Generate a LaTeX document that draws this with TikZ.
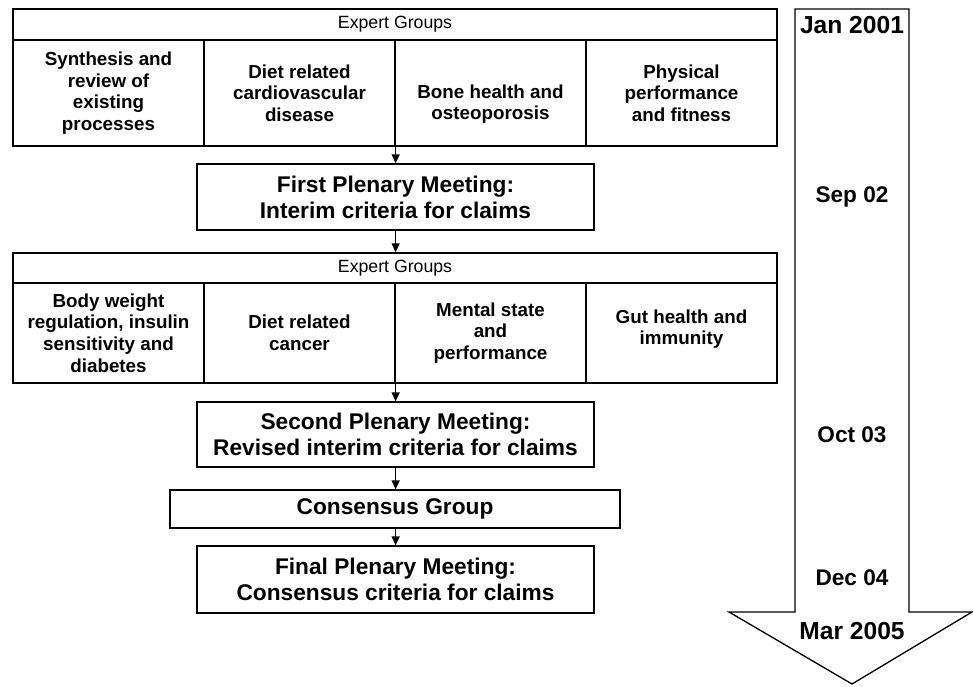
\documentclass[tikz,border=0pt]{standalone}
\usepackage{fontspec}
\setmainfont{Liberation Sans}
\usepackage{tikz}
\usetikzlibrary{arrows.meta, calc, positioning}

\tikzset{
    grouphead/.style={draw, minimum width=764pt, inner sep=0pt,
        font=\fontsize{17.7}{20}\selectfont},
    groupcell/.style={draw, minimum width=191pt, inner sep=0pt},
    celltext/.style={inner sep=0pt, align=center,
        font=\bfseries\fontsize{18.8}{21.7}\selectfont},
    meeting/.style={draw, minimum width=397pt, inner sep=0pt, align=center,
        font=\bfseries\fontsize{22.7}{26}\selectfont},
    datelabel/.style={inner sep=0pt, font=\bfseries\fontsize{22.6}{26}\selectfont},
    flow/.style={-{Triangle[length=9pt, width=8pt]}}
}

\begin{document}
\begin{tikzpicture}[x=1pt, y=-1pt, line width=1.3pt]
                    \useasboundingbox (0, 0) rectangle (973, 686);

                    \node[grouphead, minimum height=31pt] (ha) at (395, 24.5) {Expert Groups};
                    \foreach \i/\dy/\txt in {1/0/{Synthesis and\\review of\\existing\\processes},
                                             2/0/{Diet related\\cardiovascular\\disease},
                                             3/11/{Bone health and\\osteoporosis},
                                             4/0/{Physical\\performance\\and fitness}} {
                        \node[groupcell, minimum height=106pt] (a\i) at (-82.5 + 191*\i, 93) {};
                        \node[celltext] (ta\i) at ($(a\i.center) + (0, \dy)$) {\txt};
                    }

                    \node[meeting, minimum height=66pt] (p1) at (395.5, 197)
                        {First Plenary Meeting:\\Interim criteria for claims};

                    \node[grouphead, minimum height=30pt] (hb) at (395, 268) {Expert Groups};
                    \foreach \i/\dy/\txt in {1/0/{Body weight\\regulation, insulin\\sensitivity and\\diabetes},
                                             2/0/{Diet related\\cancer},
                                             3/0/{Mental state\\and\\performance},
                                             4/-4/{Gut health and\\immunity}} {
                        \node[groupcell, minimum height=100pt] (b\i) at (-82.5 + 191*\i, 333) {};
                        \node[celltext] (tb\i) at ($(b\i.center) + (0, \dy)$) {\txt};
                    }

                    \node[meeting, minimum height=65pt] (p2) at (395.5, 434.5)
                        {Second Plenary Meeting:\\Revised interim criteria for claims};
                    \node[meeting, minimum width=450pt, minimum height=38pt] (cg) at (395, 509)
                        {Consensus Group};
                    \node[meeting, minimum height=67pt] (p3) at (395.5, 579.5)
                        {Final Plenary Meeting:\\Consensus criteria for claims};

                    \draw[flow] (a2.south east) -- (a2.south east |- p1.north);
                    \draw[flow] (p1.south -| a2.south east) -- (hb.north -| a2.south east);
                    \draw[flow] (b2.south east) -- (b2.south east |- p2.north);
                    \draw[flow] (p2.south -| b2.south east) -- (cg.north -| b2.south east);
                    \draw[flow] (cg.south -| b2.south east) -- (p3.north -| b2.south east);

                    \draw[line join=miter]
                        (795, 9) -- (909, 9) -- (909, 612) -- (972, 612) -- (852, 684)
                        -- (729, 612) -- (795, 612) -- cycle;

                    \node[datelabel, font=\bfseries\fontsize{24.6}{28}\selectfont] (d1) at (852, 25) {Jan 2001};
                    \node[datelabel] (d2) at (852, 197) {Sep 02};
                    \node[datelabel] (d3) at (852, 434.5) {Oct 03};
                    \node[datelabel] (d4) at (852, 578) {Dec 04};
                    \node[datelabel, font=\bfseries\fontsize{24.6}{28}\selectfont] (d5) at (852, 631) {Mar 2005};
                \end{tikzpicture}
\end{document}
